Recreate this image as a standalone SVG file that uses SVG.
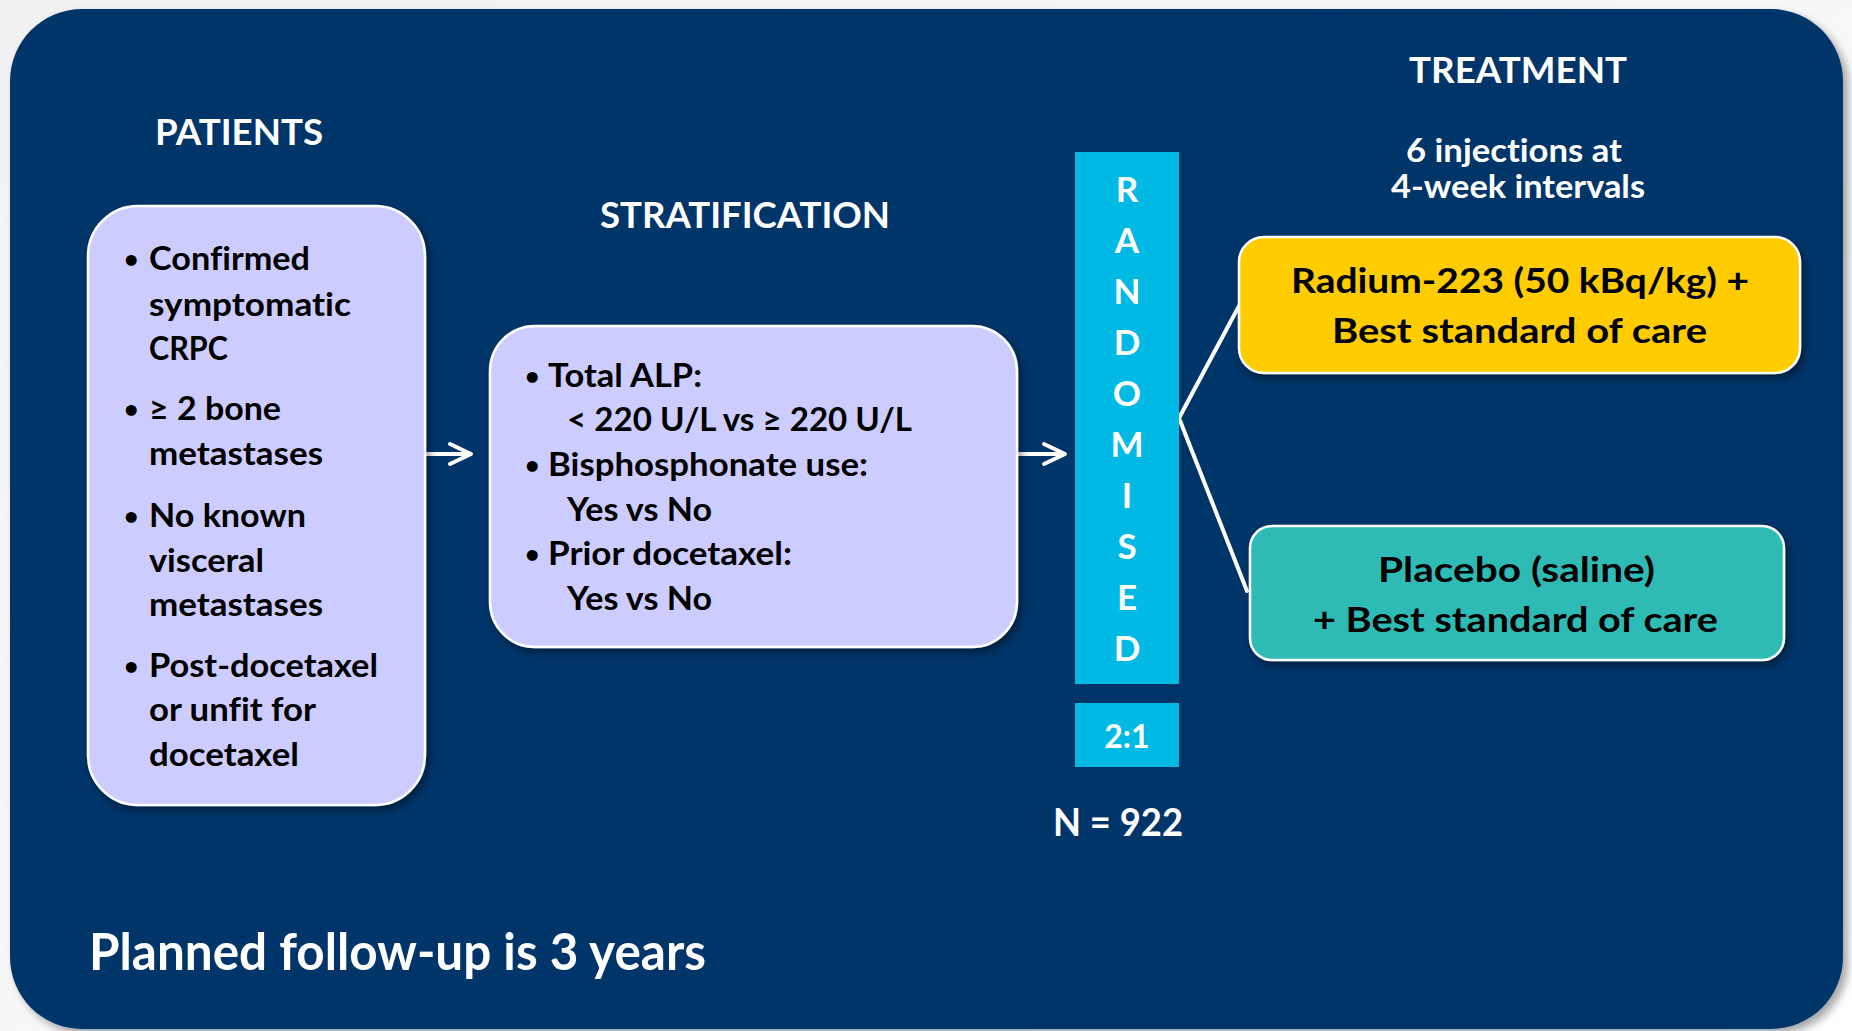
<svg xmlns="http://www.w3.org/2000/svg" width="1852" height="1031" viewBox="0 0 1852 1031">
  <defs>
    <filter id="outerShadow" x="-5%" y="-5%" width="110%" height="110%">
      <feDropShadow dx="5" dy="5" stdDeviation="4" flood-color="#000" flood-opacity="0.35"/>
    </filter>
    <filter id="boxShadow" x="-10%" y="-10%" width="120%" height="120%">
      <feDropShadow dx="3" dy="4" stdDeviation="4" flood-color="#000" flood-opacity="0.45"/>
    </filter>
    <linearGradient id="pageBg" x1="0" y1="0" x2="1" y2="1">
      <stop offset="0" stop-color="#f1f1f4"/>
      <stop offset="1" stop-color="#ffffff"/>
    </linearGradient>
  </defs>
  <style>
    text { font-family: Lato, "Liberation Sans", sans-serif; font-weight: bold; font-variant-ligatures: none; }
    .hdr { fill: #ffffff; font-size: 36px; }
    .sub { fill: #ffffff; font-size: 32px; }
    .item { fill: #000000; font-size: 33px; }
    .bul { font-size: 25px; }
    .arm { fill: #000000; font-size: 35px; }
    .rand { fill: #ffffff; font-size: 35px; text-anchor: middle; }
    .lav { fill: #CCCCFF; stroke: #ffffff; stroke-width: 2.5; }
    .yel { fill: #FFCC00; stroke: #ffffff; stroke-width: 2.5; }
    .teal { fill: #2EBBB6; stroke: #ffffff; stroke-width: 2.5; }
    .cyan { fill: #00B9E4; }
    .conn { fill: none; stroke: #ffffff; stroke-width: 4; stroke-linecap: round; stroke-linejoin: round; }
  </style>

  <rect x="0" y="0" width="1852" height="1031" fill="url(#pageBg)"/>
  <rect id="panel" x="10" y="9" width="1833" height="1020" rx="72" ry="72" fill="#03366A" filter="url(#outerShadow)"/>

  <!-- Headers -->
  <g id="header-patients"><text class="hdr" x="155" y="145" textLength="168" lengthAdjust="spacingAndGlyphs">PATIENTS</text></g>
  <g id="header-stratification"><text class="hdr" x="600" y="228" textLength="290" lengthAdjust="spacingAndGlyphs">STRATIFICATION</text></g>
  <g id="header-treatment">
    <text class="hdr" x="1409" y="83" textLength="218" lengthAdjust="spacingAndGlyphs">TREATMENT</text>
    <text class="sub" x="1406" y="162" textLength="216" lengthAdjust="spacingAndGlyphs">6 injections at</text>
    <text class="sub" x="1391" y="198" textLength="254" lengthAdjust="spacingAndGlyphs">4-week intervals</text>
  </g>

  <!-- Connectors -->
  <g id="connectors">
    <line class="conn" x1="425" y1="454" x2="470" y2="454"/>
    <path class="conn" d="M450,444 L471,454 L450,464"/>
    <line class="conn" x1="1017" y1="454" x2="1064" y2="454"/>
    <path class="conn" d="M1044,444 L1065,454 L1044,464"/>
    <path class="conn" d="M1239,306 L1179,418 L1247,591" stroke-linecap="butt"/>
  </g>

  <!-- Patients node -->
  <g id="node-patients">
    <rect class="lav" x="88" y="206" width="337" height="599" rx="50" ry="50" filter="url(#boxShadow)"/>
    <g class="item">
      <text class="bul" x="124" y="268">•</text>
      <text x="149" y="270" textLength="161" lengthAdjust="spacingAndGlyphs">Confirmed</text>
      <text x="149" y="316" textLength="202" lengthAdjust="spacingAndGlyphs">symptomatic</text>
      <text x="149" y="360" textLength="79" lengthAdjust="spacingAndGlyphs">CRPC</text>
      <text class="bul" x="124" y="418">•</text>
      <text x="149" y="420" textLength="132" lengthAdjust="spacingAndGlyphs">≥ 2 bone</text>
      <text x="149" y="465" textLength="174" lengthAdjust="spacingAndGlyphs">metastases</text>
      <text class="bul" x="124" y="525">•</text>
      <text x="149" y="527" textLength="157" lengthAdjust="spacingAndGlyphs">No known</text>
      <text x="149" y="572" textLength="115" lengthAdjust="spacingAndGlyphs">visceral</text>
      <text x="149" y="616" textLength="174" lengthAdjust="spacingAndGlyphs">metastases</text>
      <text class="bul" x="124" y="675">•</text>
      <text x="149" y="677" textLength="229" lengthAdjust="spacingAndGlyphs">Post-docetaxel</text>
      <text x="149" y="721" textLength="167" lengthAdjust="spacingAndGlyphs">or unfit for</text>
      <text x="149" y="766" textLength="150" lengthAdjust="spacingAndGlyphs">docetaxel</text>
    </g>
  </g>

  <!-- Stratification node -->
  <g id="node-stratification">
    <rect class="lav" x="490" y="326" width="527" height="321" rx="45" ry="45" filter="url(#boxShadow)"/>
    <g class="item">
      <text class="bul" x="525" y="385">•</text>
      <text x="548" y="387" textLength="154" lengthAdjust="spacingAndGlyphs">Total ALP:</text>
      <text x="567" y="431" textLength="345" lengthAdjust="spacingAndGlyphs">&lt; 220 U/L vs ≥ 220 U/L</text>
      <text class="bul" x="525" y="474">•</text>
      <text x="548" y="476" textLength="320" lengthAdjust="spacingAndGlyphs">Bisphosphonate use:</text>
      <text x="567" y="521" textLength="145" lengthAdjust="spacingAndGlyphs">Yes vs No</text>
      <text class="bul" x="525" y="563">•</text>
      <text x="548" y="565" textLength="244" lengthAdjust="spacingAndGlyphs">Prior docetaxel:</text>
      <text x="567" y="610" textLength="145" lengthAdjust="spacingAndGlyphs">Yes vs No</text>
    </g>
  </g>

  <!-- Randomised bar -->
  <g id="node-randomised">
    <rect class="cyan" x="1075" y="152" width="104" height="532"/>
    <text class="rand" x="1127" y="202">R</text>
    <text class="rand" x="1127" y="253">A</text>
    <text class="rand" x="1127" y="304">N</text>
    <text class="rand" x="1127" y="355">D</text>
    <text class="rand" x="1127" y="406">O</text>
    <text class="rand" x="1127" y="457">M</text>
    <text class="rand" x="1127" y="508">I</text>
    <text class="rand" x="1127" y="559">S</text>
    <text class="rand" x="1127" y="610">E</text>
    <text class="rand" x="1127" y="661">D</text>
  </g>

  <g id="node-ratio">
    <rect class="cyan" x="1075" y="703" width="104" height="64"/>
    <text x="1127" y="748" fill="#ffffff" font-size="32" text-anchor="middle">2:1</text>
  </g>

  <g id="label-n">
    <text x="1053" y="836" fill="#ffffff" font-size="37.5" textLength="130" lengthAdjust="spacingAndGlyphs">N = 922</text>
  </g>

  <!-- Treatment arms -->
  <g id="node-radium">
    <rect class="yel" x="1239" y="237" width="561" height="136" rx="25" ry="25" filter="url(#boxShadow)"/>
    <text class="arm" x="1291" y="293" textLength="458" lengthAdjust="spacingAndGlyphs">Radium-223 (50 kBq/kg) +</text>
    <text class="arm" x="1332" y="343" textLength="375" lengthAdjust="spacingAndGlyphs">Best standard of care</text>
  </g>

  <g id="node-placebo">
    <rect class="teal" x="1250" y="526" width="534" height="134" rx="22" ry="22" filter="url(#boxShadow)"/>
    <text class="arm" x="1378" y="582" textLength="277" lengthAdjust="spacingAndGlyphs">Placebo (saline)</text>
    <text class="arm" x="1313" y="632" textLength="405" lengthAdjust="spacingAndGlyphs">+ Best standard of care</text>
  </g>

  <g id="label-followup">
    <text x="89" y="970" fill="#ffffff" font-size="51" textLength="617" lengthAdjust="spacingAndGlyphs">Planned follow-up is 3 years</text>
  </g>
</svg>
